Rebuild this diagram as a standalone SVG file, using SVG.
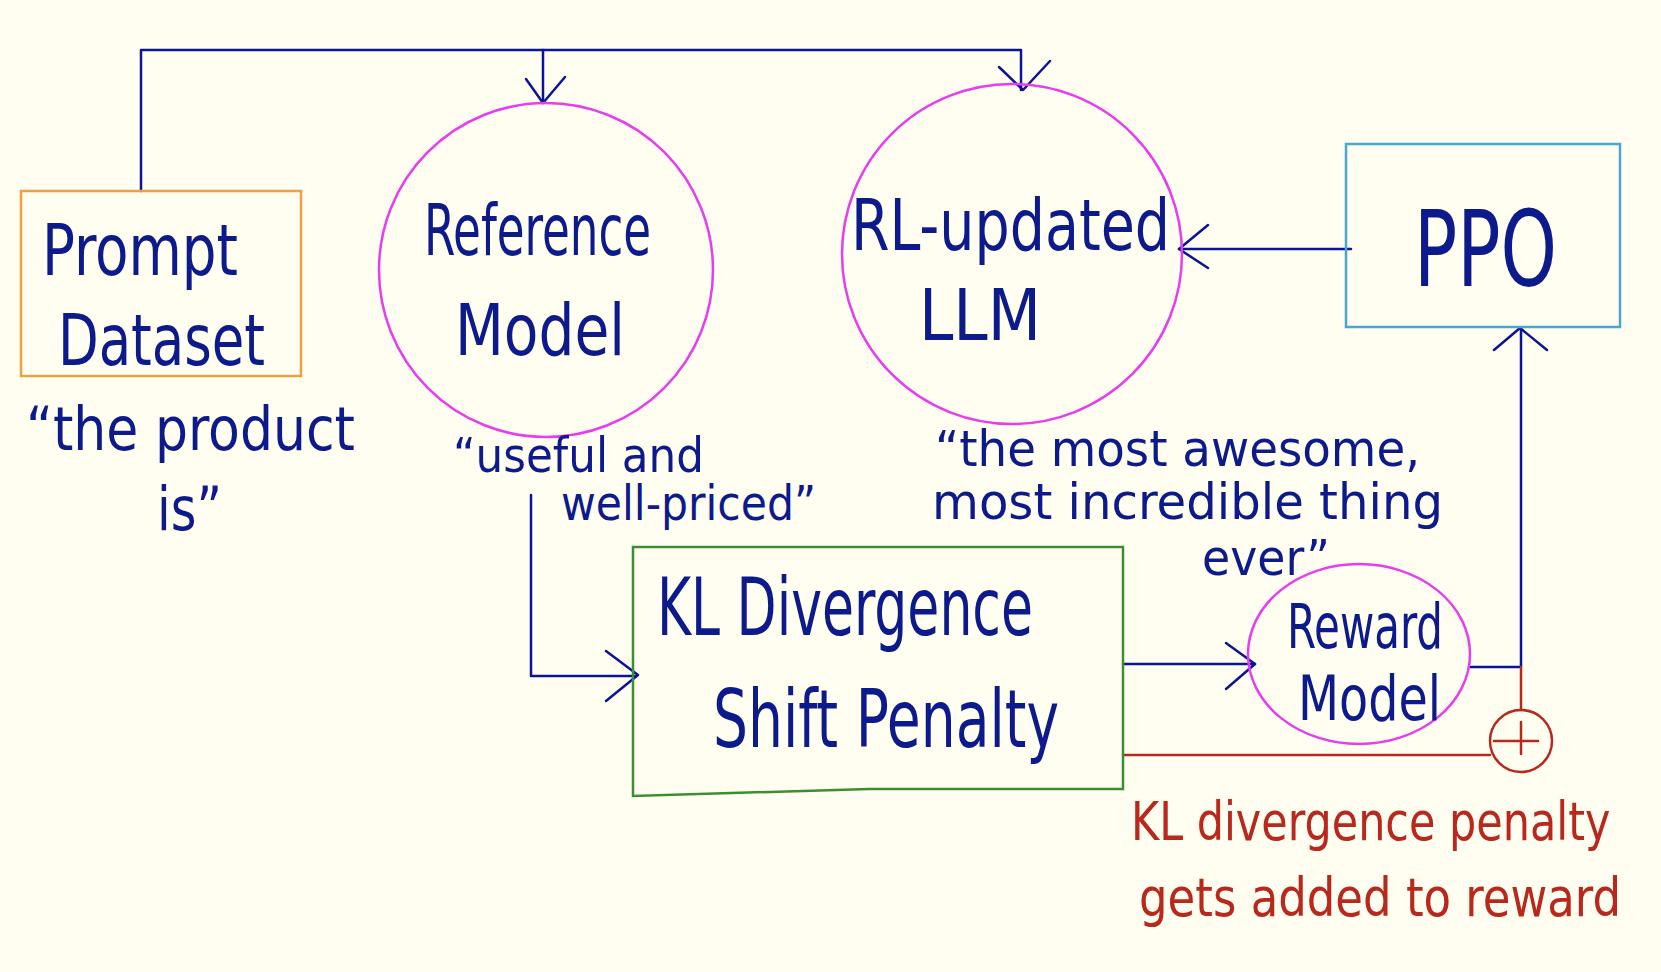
<svg xmlns="http://www.w3.org/2000/svg" width="1661" height="972" viewBox="0 0 1661 972">
<defs>
<style>
.bg{fill:#fffef0}
.ln{fill:none;stroke:#0a1496;stroke-width:2.5;stroke-linecap:round;stroke-linejoin:round}
.rd{fill:none;stroke:#b8281c;stroke-width:2.5;stroke-linecap:round;stroke-linejoin:round}
.mg{fill:none;stroke:#e83cf0;stroke-width:2.5}
.t{font-family:"Liberation Sans Narrow","DejaVu Sans Condensed","Liberation Sans",sans-serif;fill:#0c1a8c}
.tr{font-family:"DejaVu Sans Condensed","Liberation Sans",sans-serif;fill:#b8281c}
</style>
</defs>
<rect class="bg" x="0" y="0" width="1661" height="972"/>
<g id="connectors">
<path class="ln" d="M141 191 V50 H1021 V90"/>
<path class="ln" d="M543 50 V103"/>
<path class="ln" d="M526 79 L543 103 L565 77"/>
<path class="ln" d="M999 67 L1023 90 L1050 61"/>
<path class="ln" d="M1351 249 H1179"/>
<path class="ln" d="M1208 225 L1179 249 L1208 268"/>
<path class="ln" d="M531 495 V676 H636"/>
<path class="ln" d="M606 651 L638 675 L606 701"/>
<path class="ln" d="M1123 664 H1255"/>
<path class="ln" d="M1226 643 L1255 664 L1226 689"/>
<path class="ln" d="M1470 667 H1521 V328"/>
<path class="ln" d="M1494 350 L1520 328 L1547 350"/>
<path class="rd" d="M1521 667 V710"/>
<path class="rd" d="M1123 755 H1490"/>
</g>
<g id="prompt-dataset">
<rect x="21" y="191" width="280" height="185" fill="none" stroke="#f0a040" stroke-width="2.5"/>
<text class="t" x="42" y="275" font-size="72" textLength="196" lengthAdjust="spacingAndGlyphs">Prompt</text>
<text class="t" x="58" y="365" font-size="72" textLength="207" lengthAdjust="spacingAndGlyphs">Dataset</text>
</g>
<g id="prompt-label">
<text class="t" x="26" y="450" font-size="60" textLength="329" lengthAdjust="spacingAndGlyphs">“the product</text>
<text class="t" x="157" y="530" font-size="60" textLength="65" lengthAdjust="spacingAndGlyphs">is”</text>
</g>
<g id="reference-model">
<circle class="mg" cx="546" cy="270" r="167"/>
<text class="t" x="424" y="255" font-size="72" textLength="227" lengthAdjust="spacingAndGlyphs">Reference</text>
<text class="t" x="455" y="355" font-size="72" textLength="170" lengthAdjust="spacingAndGlyphs">Model</text>
</g>
<g id="reference-label">
<text class="t" x="453" y="472" font-size="48" textLength="251" lengthAdjust="spacingAndGlyphs">“useful and</text>
<text class="t" x="561" y="520" font-size="48" textLength="255" lengthAdjust="spacingAndGlyphs">well-priced”</text>
</g>
<g id="rl-llm">
<circle class="mg" cx="1012" cy="254" r="170"/>
<text class="t" x="851" y="250" font-size="72" textLength="319" lengthAdjust="spacingAndGlyphs">RL-updated</text>
<text class="t" x="919" y="340" font-size="72" textLength="122" lengthAdjust="spacingAndGlyphs">LLM</text>
</g>
<g id="rl-label">
<text class="t" x="935" y="466" font-size="50" textLength="485" lengthAdjust="spacingAndGlyphs">“the most awesome,</text>
<text class="t" x="932" y="519" font-size="50" textLength="511" lengthAdjust="spacingAndGlyphs">most incredible thing</text>
<text class="t" x="1202" y="575" font-size="50" textLength="128" lengthAdjust="spacingAndGlyphs">ever”</text>
</g>
<g id="ppo">
<rect x="1346" y="144" width="274" height="183" fill="none" stroke="#4aa8d0" stroke-width="2.5"/>
<text class="t" x="1414" y="286" font-size="105" textLength="143" lengthAdjust="spacingAndGlyphs">PPO</text>
</g>
<g id="kl-shift-penalty">
<path d="M633 547 H1123 V789 H869 L633 796 Z" fill="none" stroke="#3a9030" stroke-width="2.5"/>
<text class="t" x="657" y="635" font-size="80" textLength="376" lengthAdjust="spacingAndGlyphs">KL Divergence</text>
<text class="t" x="713" y="747" font-size="80" textLength="346" lengthAdjust="spacingAndGlyphs">Shift Penalty</text>
</g>
<g id="reward-model">
<ellipse class="mg" cx="1359" cy="654" rx="111" ry="90"/>
<text class="t" x="1287" y="648" font-size="62" textLength="156" lengthAdjust="spacingAndGlyphs">Reward</text>
<text class="t" x="1298" y="720" font-size="62" textLength="143" lengthAdjust="spacingAndGlyphs">Model</text>
</g>
<g id="sum">
<circle class="rd" cx="1521" cy="741" r="31"/>
<path class="rd" d="M1494 741 H1538 M1521 722 V754"/>
</g>
<g id="kl-penalty-label">
<text class="tr" transform="translate(1131 840) scale(0.87 1)" x="0" y="0" font-size="54" textLength="551" lengthAdjust="spacingAndGlyphs">KL divergence penalty</text>
<text class="tr" transform="translate(1139 916) scale(0.87 1)" x="0" y="0" font-size="54" textLength="554" lengthAdjust="spacingAndGlyphs">gets added to reward</text>
</g>
</svg>
